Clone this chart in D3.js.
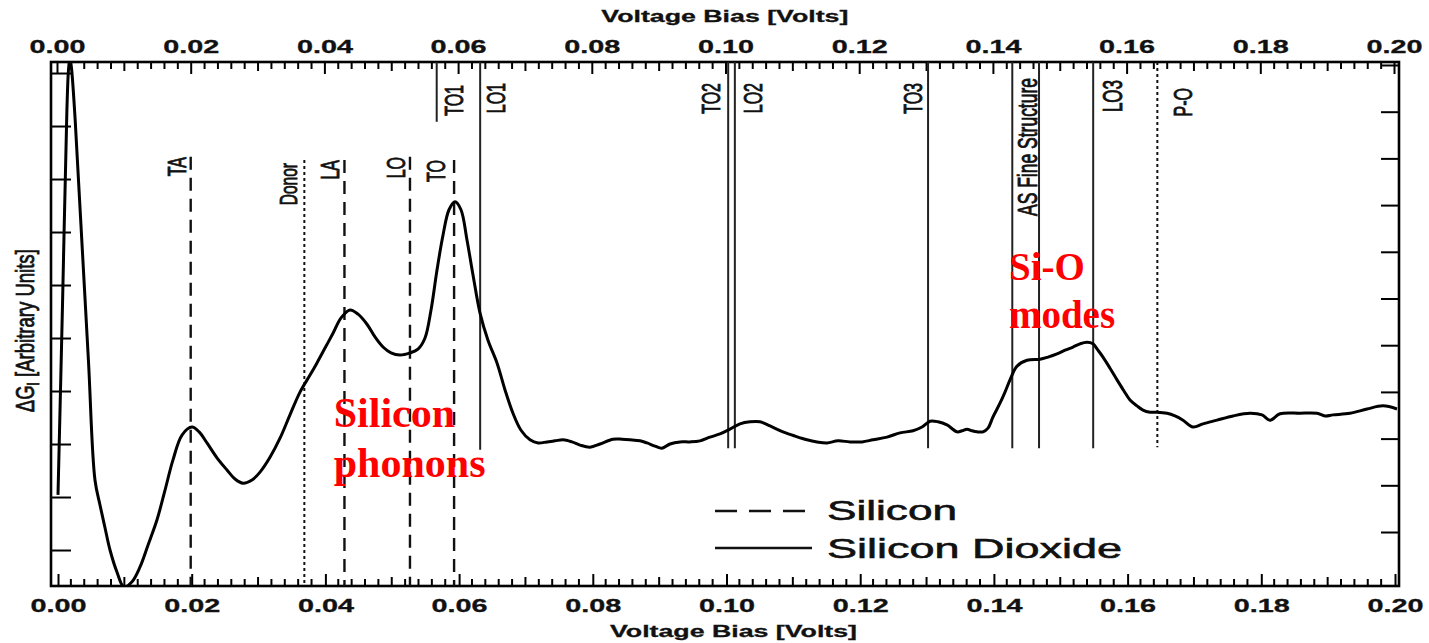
<!DOCTYPE html>
<html><head><meta charset="utf-8">
<script src="https://cdn.jsdelivr.net/npm/d3@7"></script>
<style>body{margin:0;background:#fff}</style>
</head><body>
<svg id="chart" width="1429" height="643"></svg>
<script>
// ---------------- DATA ----------------
const voltage = [0.00015,0.00084,0.00148,0.00172,0.00194,0.00217,0.00272,0.00338,0.00470,0.00568,
0.00643,0.00718,0.00793,0.00898,0.01002,0.01122,0.01242,0.01361,0.01496,0.01616,0.01735,0.01870,0.02019,0.02139,
0.02244,0.02393,0.02543,0.02663,0.02782,0.02917,0.03037,0.03186,0.03336,0.03485,0.03635,0.03785,0.03889,
0.04009,0.04129,0.04249,0.04383,0.04503,0.04637,0.04757,0.04877,0.04996,0.05131,0.05281,0.05400,0.05505,
0.05595,0.05684,0.05774,0.05864,0.05954,0.06043,0.06133,0.06223,0.06328,0.06447,0.06582,0.06702,0.06821,
0.06941,0.07076,0.07196,0.07330,0.07450,0.07569,0.07704,0.07824,0.07973,0.08123,0.08317,0.08452,0.08571,
0.08721,0.08826,0.08945,0.09050,0.09170,0.09320,0.09469,0.09619,0.09768,0.09918,0.10067,0.10217,0.10366,
0.10516,0.10666,0.10860,0.11040,0.11219,0.11369,0.11518,0.11683,0.11862,0.12042,0.12206,0.12416,0.12611,
0.12805,0.12940,0.13059,0.13179,0.13313,0.13463,0.13538,0.13613,0.13687,0.13762,0.13852,0.13927,0.14001,
0.14106,0.14181,0.14256,0.14361,0.14510,0.14705,0.14824,0.14959,0.15079,0.15198,0.15303,0.15408,0.15497,
0.15572,0.15647,0.15752,0.15857,0.15961,0.16051,0.16156,0.16245,0.16350,0.16455,0.16605,0.16724,0.16844,
0.16993,0.17143,0.17352,0.17592,0.17846,0.18025,0.18145,0.18295,0.18594,0.18848,0.18968,0.19088,0.19342,
0.19596,0.19836,0.20045];
const deltaG = [1.04,4.72,8.30,9.06,9.28,9.09,8.11,6.60,3.58,1.32,
0.85,0.42,0.00,-0.42,-0.70,-0.60,-0.32,0.09,0.57,1.13,1.70,2.17,2.32,2.21,
2.02,1.74,1.51,1.34,1.26,1.32,1.47,1.75,2.11,2.55,2.98,3.30,3.53,
3.81,4.09,4.38,4.53,4.45,4.26,4.02,3.83,3.72,3.68,3.72,3.79,4.00,
4.53,5.28,5.94,6.42,6.57,6.42,5.85,5.19,4.47,3.96,3.53,3.02,2.58,
2.26,2.08,2.02,2.04,2.06,2.08,2.04,1.98,1.94,2.00,2.09,2.09,2.08,
2.06,2.02,1.96,1.92,2.00,2.04,2.04,2.06,2.13,2.19,2.28,2.38,2.42,
2.42,2.34,2.23,2.15,2.08,2.04,2.02,2.06,2.04,2.04,2.08,2.13,2.21,
2.25,2.32,2.43,2.42,2.36,2.23,2.25,2.28,2.25,2.23,2.23,2.30,2.51,
2.77,2.98,3.21,3.47,3.58,3.60,3.64,3.70,3.77,3.83,3.89,3.92,3.89,
3.77,3.64,3.43,3.21,3.00,2.83,2.72,2.64,2.60,2.60,2.58,2.53,2.45,
2.32,2.38,2.45,2.53,2.58,2.55,2.45,2.57,2.58,2.58,2.53,2.55,2.58,
2.66,2.72,2.66];

const xTickValues = [0,0.02,0.04,0.06,0.08,0.10,0.12,0.14,0.16,0.18,0.20];
const xAxisTitle = "Voltage Bias [Volts]";
const yLeftTicks = [0,1,2,3,4,5,6,7,8,9];
const yRightTicks = [0,1,2,3,4,5,6,7,8,9,10];

// Silicon phonon modes (dashed)
const siliconModes = ["TA","LA","LO","TO"];
const siliconBias = [0.0200,0.0430,0.0528,0.0594];
const siliconFrom = [7.42,7.36,7.42,7.36];
// Impurity-related (dotted)
const dottedModes = ["Donor","P-O"];
const dottedBias = [0.0370,0.1646];
const dottedFrom = [-0.68,1.94];
const dottedTo = [7.36,9.21];
// Silicon dioxide modes (solid)
const oxideModes = ["TO1","LO1","TO2","LO2","TO3","AS Fine Structure","","LO3"];
const oxideBias = [0.0568,0.0633,0.1004,0.1014,0.1303,0.1429,0.1469,0.1550];
const oxideFrom = [8.08,1.89,1.92,1.92,1.92,1.92,1.92,1.92];

const legendLabels = ["Silicon","Silicon Dioxide"];
const annotationLines = ["Silicon","phonons","Si-O","modes"];
const annotationBias = [0.0414,0.0414,0.1424,0.1424];
const annotationLevel = [2.32,1.38,5.09,4.19];

// ---------------- LAYOUT ----------------
const svg = d3.select("#chart");
const L = 51, R = 1399, T = 62, B = 586;
const x = d3.scaleLinear().domain([0,0.2]).range([57,1394]);
const y = d3.scaleLinear().domain([-0.679,9.208]).range([B,T]);
const yR = d3.scaleLinear().domain([-1.156,10.064]).range([B,T]);
const fmt = d3.format(".2f");
const sans = "'Liberation Sans', Arial, Helvetica, sans-serif";
const serif = "'Liberation Serif', 'Times New Roman', serif";

const labelLayout = {
  "TA":{dx:-5,top:157,fs:16}, "LA":{dx:-5,top:160,fs:16}, "LO":{dx:-5,top:157,fs:16}, "TO":{dx:-9,top:160,fs:16},
  "Donor":{dx:-7,top:163,fs:15.5}, "P-O":{dx:35,top:88,fs:16},
  "TO1":{dx:26,top:85,fs:16}, "LO1":{dx:25,top:83,fs:16}, "TO2":{dx:-8,top:83,fs:16}, "LO2":{dx:27,top:83,fs:16},
  "TO3":{dx:-6,top:83,fs:16}, "AS Fine Structure":{dx:25,top:78,fs:17.5}, "LO3":{dx:29,top:80,fs:17}
};

svg.append("defs").append("clipPath").attr("id","plotclip")
  .append("rect").attr("x",L).attr("y",T-1).attr("width",R-L).attr("height",B-T+2);

// ---------------- AXES ----------------
const allTicks = d3.range(0,101).map(i => i*0.002);
const medTicks = allTicks.filter((v,i)=> i%10===5);
const minTicks = allTicks.filter((v,i)=> i%5!==0);

function styleAxis(g){
  g.select(".domain").remove();
  g.selectAll(".tick line").attr("stroke","#000").attr("stroke-width",2);
}
svg.append("g").attr("transform",`translate(0,${T})`)
  .call(d3.axisTop(x).tickValues(minTicks).tickSize(-7).tickFormat("")).call(styleAxis);
svg.append("g").attr("transform",`translate(0,${T})`)
  .call(d3.axisTop(x).tickValues(medTicks).tickSize(-9).tickFormat("")).call(styleAxis);
const topAx = svg.append("g").attr("transform",`translate(0,${T})`)
  .call(d3.axisTop(x).tickValues(xTickValues).tickSize(-12).tickPadding(9).tickFormat(fmt)).call(styleAxis);
svg.append("g").attr("transform",`translate(0,${B})`)
  .call(d3.axisBottom(x).tickValues(minTicks).tickSize(-7).tickFormat("")).call(styleAxis);
svg.append("g").attr("transform",`translate(0,${B})`)
  .call(d3.axisBottom(x).tickValues(medTicks).tickSize(-9).tickFormat("")).call(styleAxis);
const botAx = svg.append("g").attr("transform",`translate(1,${B})`)
  .call(d3.axisBottom(x).tickValues(xTickValues).tickSize(-12).tickPadding(13).tickFormat(fmt)).call(styleAxis);
[topAx,botAx].forEach(g => g.selectAll(".tick text")
  .attr("font-family",sans).attr("font-weight","bold").attr("font-size",18).attr("fill","#111")
  .attr("stroke","#111").attr("stroke-width",0.3)
  .attr("transform","scale(1.6,1)"));
svg.append("g").attr("transform",`translate(${L},0)`)
  .call(d3.axisLeft(y).tickValues(yLeftTicks).tickSize(-20).tickFormat("")).call(styleAxis);
svg.append("g").attr("transform",`translate(${R},0)`)
  .call(d3.axisRight(yR).tickValues(yRightTicks).tickSize(-18).tickFormat("")).call(styleAxis);

svg.append("rect").attr("x",L).attr("y",T).attr("width",R-L).attr("height",B-T)
  .attr("fill","none").attr("stroke","#000").attr("stroke-width",2.6);

// axis titles
[[x(0.0999),22],[x(0.1012),637]].forEach(([cx,cy])=>{
  svg.append("text").attr("x",cx).attr("y",cy).attr("text-anchor","middle")
    .attr("font-family",sans).attr("font-weight","bold").attr("font-size",17).attr("fill","#111")
    .attr("stroke","#111").attr("stroke-width",0.3)
    .attr("textLength",247).attr("lengthAdjust","spacingAndGlyphs").text(xAxisTitle);
});
const yt = svg.append("text").attr("transform",`translate(34,${(y(2.2)+y(6.0))/2 - 2}) scale(1.55,1) rotate(-90)`)
  .attr("text-anchor","middle").attr("font-family",sans).attr("font-size",17).attr("fill","#111")
  .attr("stroke","#111").attr("stroke-width",0.5)
  .attr("textLength",163).attr("lengthAdjust","spacingAndGlyphs");
yt.append("tspan").text("ΔG");
yt.append("tspan").attr("font-size",11).attr("dy",3).text("I");
yt.append("tspan").attr("dy",-3).text(" [Arbitrary Units]");

// ---------------- MARKER LINES ----------------
const mk = svg.append("g");
siliconModes.forEach((m,i)=>{
  mk.append("line").attr("x1",x(siliconBias[i])).attr("x2",x(siliconBias[i]))
    .attr("y1",y(siliconFrom[i])).attr("y2",B).attr("stroke","#111").attr("stroke-width",2.4)
    .attr("stroke-dasharray","13,8");
});
dottedModes.forEach((m,i)=>{
  mk.append("line").attr("x1",x(dottedBias[i])).attr("x2",x(dottedBias[i]))
    .attr("y1",y(dottedTo[i])).attr("y2",y(dottedFrom[i])).attr("stroke","#111").attr("stroke-width",2)
    .attr("stroke-dasharray","3,3");
});
oxideModes.forEach((m,i)=>{
  mk.append("line").attr("x1",x(oxideBias[i])).attr("x2",x(oxideBias[i]))
    .attr("y1",T).attr("y2",y(oxideFrom[i])).attr("stroke","#222").attr("stroke-width",2);
});
function modeLabel(name,bias){
  if(!name) return;
  const lay = labelLayout[name];
  mk.append("text").attr("transform",`translate(${x(bias)+lay.dx},${lay.top}) scale(1.6,1) rotate(-90)`)
    .attr("text-anchor","end").attr("font-family",sans).attr("font-size",lay.fs).attr("fill","#111")
    .attr("stroke","#111").attr("stroke-width",0.55)
    .text(name);
}
siliconModes.forEach((m,i)=>modeLabel(m,siliconBias[i]));
dottedModes.forEach((m,i)=>modeLabel(m,dottedBias[i]));
oxideModes.forEach((m,i)=>modeLabel(m,oxideBias[i]));

// ---------------- CURVE ----------------
const pts = voltage.map((v,i)=>[v,deltaG[i]]);
svg.append("path").datum(pts).attr("clip-path","url(#plotclip)")
  .attr("d",d3.line().x(d=>x(d[0])).y(d=>y(d[1])).curve(d3.curveCatmullRom.alpha(0.5)))
  .attr("fill","none").attr("stroke","#000").attr("stroke-width",3).attr("stroke-linejoin","round");

// ---------------- LEGEND ----------------
const lg = svg.append("g");
lg.append("line").attr("x1",715).attr("x2",805).attr("y1",511).attr("y2",511)
  .attr("stroke","#111").attr("stroke-width",2.5).attr("stroke-dasharray","22,12");
lg.append("line").attr("x1",715).attr("x2",812).attr("y1",548).attr("y2",548)
  .attr("stroke","#111").attr("stroke-width",2.5);
legendLabels.forEach((t,i)=>{
  lg.append("text").attr("x",827).attr("y",[520,558][i]).attr("font-family",sans).attr("font-size",28)
    .attr("fill","#111").attr("stroke","#111").attr("stroke-width",0.6)
    .attr("textLength",[130,295][i]).attr("lengthAdjust","spacingAndGlyphs").text(t);
});

// ---------------- ANNOTATIONS ----------------
annotationLines.forEach((t,i)=>{
  svg.append("text").attr("x",x(annotationBias[i])).attr("y",y(annotationLevel[i]))
    .attr("font-family",serif).attr("font-weight","bold").attr("font-size",i<2?42:39)
    .attr("fill","#ff0000").text(t);
});
</script>
</body></html>
